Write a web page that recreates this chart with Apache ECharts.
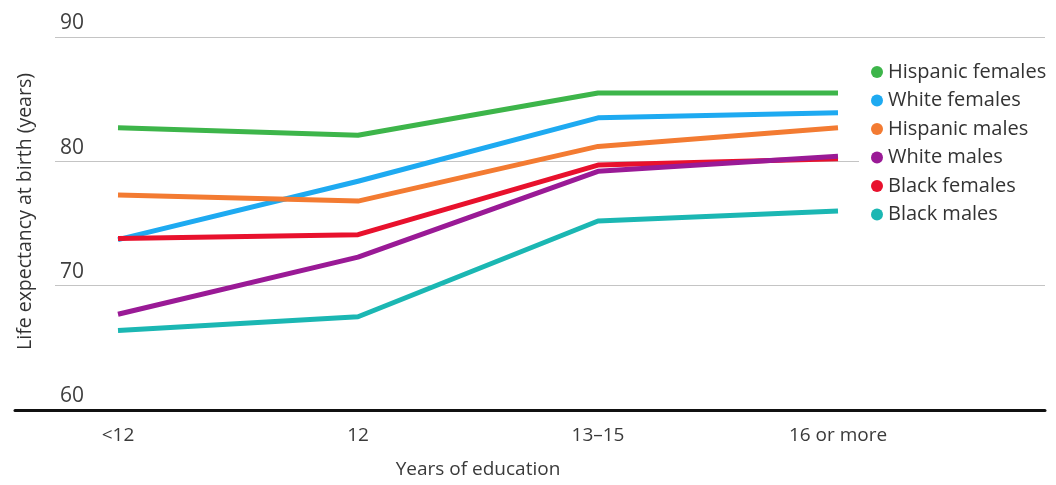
<!DOCTYPE html>
<html>
<head>
<meta charset="utf-8">
<script src="https://cdn.jsdelivr.net/npm/echarts@6/dist/echarts.min.js"></script>
<style>
html,body{margin:0;padding:0;background:#fff;}
#chart{width:1056px;height:485px;}
</style>
</head>
<body>
<div id="chart"></div>
<script>
var categories = ['<12', '12', '13\u201315', '16 or more'];
var hispanicFemales = [82.7, 82.1, 85.5, 85.5];
var whiteFemales = [73.7, 78.4, 83.5, 83.9];
var hispanicMales = [77.3, 76.8, 81.2, 82.7];
var whiteMales = [67.7, 72.3, 79.2, 80.4];
var blackFemales = [73.8, 74.1, 79.7, 80.2];
var blackMales = [66.4, 67.5, 75.2, 76.0];
var yTicks = [60, 70, 80, 90];

var FONT = 'Open Sans';
var chart = echarts.init(document.getElementById('chart'));

function line(name, data, color) {
  return {
    name: name, type: 'line', data: data,
    xAxisIndex: 1, yAxisIndex: 1,
    symbol: 'none', smooth: false,
    lineStyle: { color: color, width: 5, cap: 'butt', join: 'round' },
    itemStyle: { color: color },
    animation: false
  };
}

chart.setOption({
  animation: false,
  textStyle: { fontFamily: FONT },
  grid: [
    { left: 55, right: 11, top: 37, bottom: 75 },
    { left: 118, right: 218, top: 37, bottom: 75 },
    { left: 15, right: 11, top: 37, bottom: 75 }
  ],
  legend: {
    orient: 'vertical',
    left: 859, top: 58,
    padding: [4, 40, 4, 12],
    backgroundColor: '#fff',
    icon: 'circle',
    itemWidth: 12, itemHeight: 12, itemGap: 8.5,
    textStyle: { fontFamily: FONT, fontSize: 20, color: '#333', padding: [0, 0, 0, 0] },
    data: ['Hispanic females', 'White females', 'Hispanic males', 'White males', 'Black females', 'Black males']
  },
  xAxis: [
    { gridIndex: 0, type: 'value', show: false, min: 0, max: 1 },
    {
      gridIndex: 1, type: 'category', data: categories, boundaryGap: false,
      axisLine: { show: false }, axisTick: { show: false },
      axisLabel: { fontFamily: FONT, fontSize: 19, color: '#3a3a3a', margin: 16 },
      name: 'Years of education', nameLocation: 'middle', nameGap: 50,
      nameTextStyle: { fontFamily: FONT, fontSize: 19, color: '#3a3a3a' }
    },
    {
      gridIndex: 2, type: 'value', min: 0, max: 1,
      axisLine: { show: true, lineStyle: { color: '#111', width: 3 } },
      axisTick: { show: false }, axisLabel: { show: false }, splitLine: { show: false }
    }
  ],
  yAxis: [
    {
      gridIndex: 0, type: 'value', min: yTicks[0], max: yTicks[yTicks.length - 1], interval: 10,
      axisLine: { show: false }, axisTick: { show: false },
      splitLine: { show: true, lineStyle: { color: '#c4c4c4', width: 1 } },
      axisLabel: {
        inside: true, margin: 5, fontFamily: FONT, fontSize: 21, color: '#3f3f3f',
        verticalAlign: 'bottom', padding: [0, 0, 3, 0]
      },
      name: 'Life expectancy at birth (years)', nameLocation: 'middle', nameGap: 20,
      nameTextStyle: { fontFamily: FONT, fontSize: 19.5, color: '#333', padding: [0, 0, 0, 24] }
    },
    { gridIndex: 1, type: 'value', min: 60, max: 90, show: false },
    { gridIndex: 2, type: 'value', min: 60, max: 90, show: false }
  ],
  series: [
    line('Hispanic females', hispanicFemales, '#3db54a'),
    line('White females', whiteFemales, '#1eaaf1'),
    line('Hispanic males', hispanicMales, '#f37b32'),
    line('Black females', blackFemales, '#e8112d'),
    line('White males', whiteMales, '#9a1a96'),
    line('Black males', blackMales, '#1bb7b3')
  ]
});
</script>
</body>
</html>
